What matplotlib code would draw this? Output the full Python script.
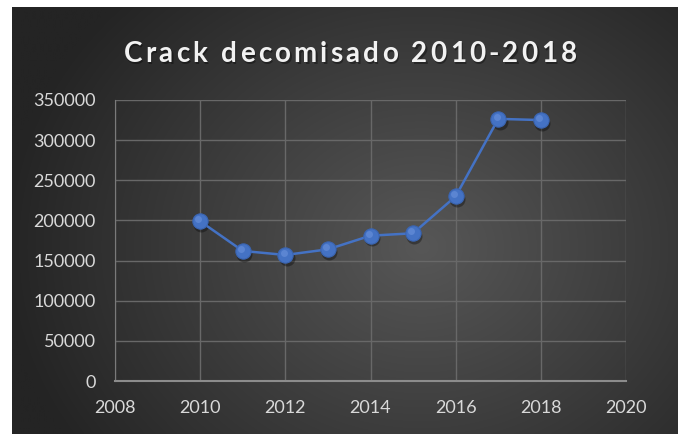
import numpy as np
import matplotlib
matplotlib.use("Agg")
import matplotlib.pyplot as plt

# ── Data ──────────────────────────────────────────────────────────────
years = [2010, 2011, 2012, 2013, 2014, 2015, 2016, 2017, 2018]
crack = [199000, 162000, 157000, 164000, 181000, 184000, 230000, 326500, 325000]

x_ticks = [2008, 2010, 2012, 2014, 2016, 2018, 2020]
y_ticks = [0, 50000, 100000, 150000, 200000, 250000, 300000, 350000]
title = "Crack decomisado 2010-2018"

FONT = "Lato"
TICK_COLOR = "#d9d9d9"
BLUE = "#4472c4"

fig = plt.figure(figsize=(6.81, 4.34), dpi=100)
fig.patch.set_facecolor("white")

# radial gradient background (chart area)
bg = fig.add_axes([12 / 681, 0, 666 / 681, 1 - 7 / 434])
bg.set_axis_off()
gx, gy = np.meshgrid(np.linspace(0, 666, 400), np.linspace(0, 427, 260))
cx, cy = 410, 240
r = np.sqrt(((gx - cx) / 1.0) ** 2 + ((gy - cy) / 0.85) ** 2)
t = np.clip(r / 420, 0, 1)
lum = 0x57 * (1 - t) + 0x24 * t
img = np.dstack([lum, lum, lum]) / 255.0
bg.imshow(img, aspect="auto", extent=[0, 1, 0, 1], interpolation="bilinear")
bg.set_xlim(0, 1)
bg.set_ylim(0, 1)

ax = fig.add_axes([115 / 681, 1 - 381 / 434, 511 / 681, 281 / 434])
ax.patch.set_alpha(0)

# marker shadows
ax.plot(np.array(years) + 0.03, np.array(crack) - 3500, "o", ms=11.5,
        color="black", alpha=0.35, zorder=3, markeredgewidth=0)
ax.plot(years, crack, "-", color=BLUE, lw=1.8, zorder=3)
ax.plot(years, crack, "o", ms=11, color=BLUE, markeredgecolor="#3a64b0",
        markeredgewidth=0.8, zorder=4)
# small highlight on markers
ax.plot(np.array(years) - 0.04, np.array(crack) + 2500, "o", ms=5,
        color="#6b93dc", alpha=0.6, markeredgewidth=0, zorder=5)

ax.set_xlim(2008, 2020)
ax.set_ylim(0, 350000)
ax.set_xticks(x_ticks)
ax.set_yticks(y_ticks)
ax.set_xticklabels([str(v) for v in x_ticks])
ax.set_yticklabels([str(v) for v in y_ticks])
ax.tick_params(length=0, labelcolor=TICK_COLOR, labelsize=13, pad=14)
for lab in ax.get_xticklabels() + ax.get_yticklabels():
    lab.set_family(FONT)

ax.grid(True, color="#686868", lw=1.0, zorder=1)
ax.set_axisbelow(True)
for side in ["top", "right"]:
    ax.spines[side].set_visible(False)
ax.spines["left"].set_color("#7a7a7a")
ax.spines["bottom"].set_color("#8c8c8c")
ax.spines["bottom"].set_linewidth(1.5)

# title with letter spacing (drawn char by char)
fig.canvas.draw()
renderer = fig.canvas.get_renderer()
tracking = 3.2  # px between letters
fs = 20
widths = []
for ch in title:
    tt = fig.text(0, 0, ch if ch != " " else "n", fontsize=fs, fontweight="bold", family=FONT)
    w = tt.get_window_extent(renderer).width
    if ch == " ":
        w *= 0.45
    widths.append(w)
    tt.remove()
total = sum(widths) + tracking * (len(title) - 1)
xpos = 350 - total / 2
ybase = 1 - 62 / 434
for ch, w in zip(title, widths):
    if ch != " ":
        fig.text((xpos + 1.2) / 681, ybase - 1.5 / 434, ch, fontsize=fs, fontweight="bold",
                 family=FONT, color="black", alpha=0.35, va="baseline")
        fig.text(xpos / 681, ybase, ch, fontsize=fs, fontweight="bold",
                 family=FONT, color="#f2f2f2", va="baseline")
    xpos += w + tracking

fig.savefig("out.png", dpi=100, facecolor=fig.get_facecolor())
